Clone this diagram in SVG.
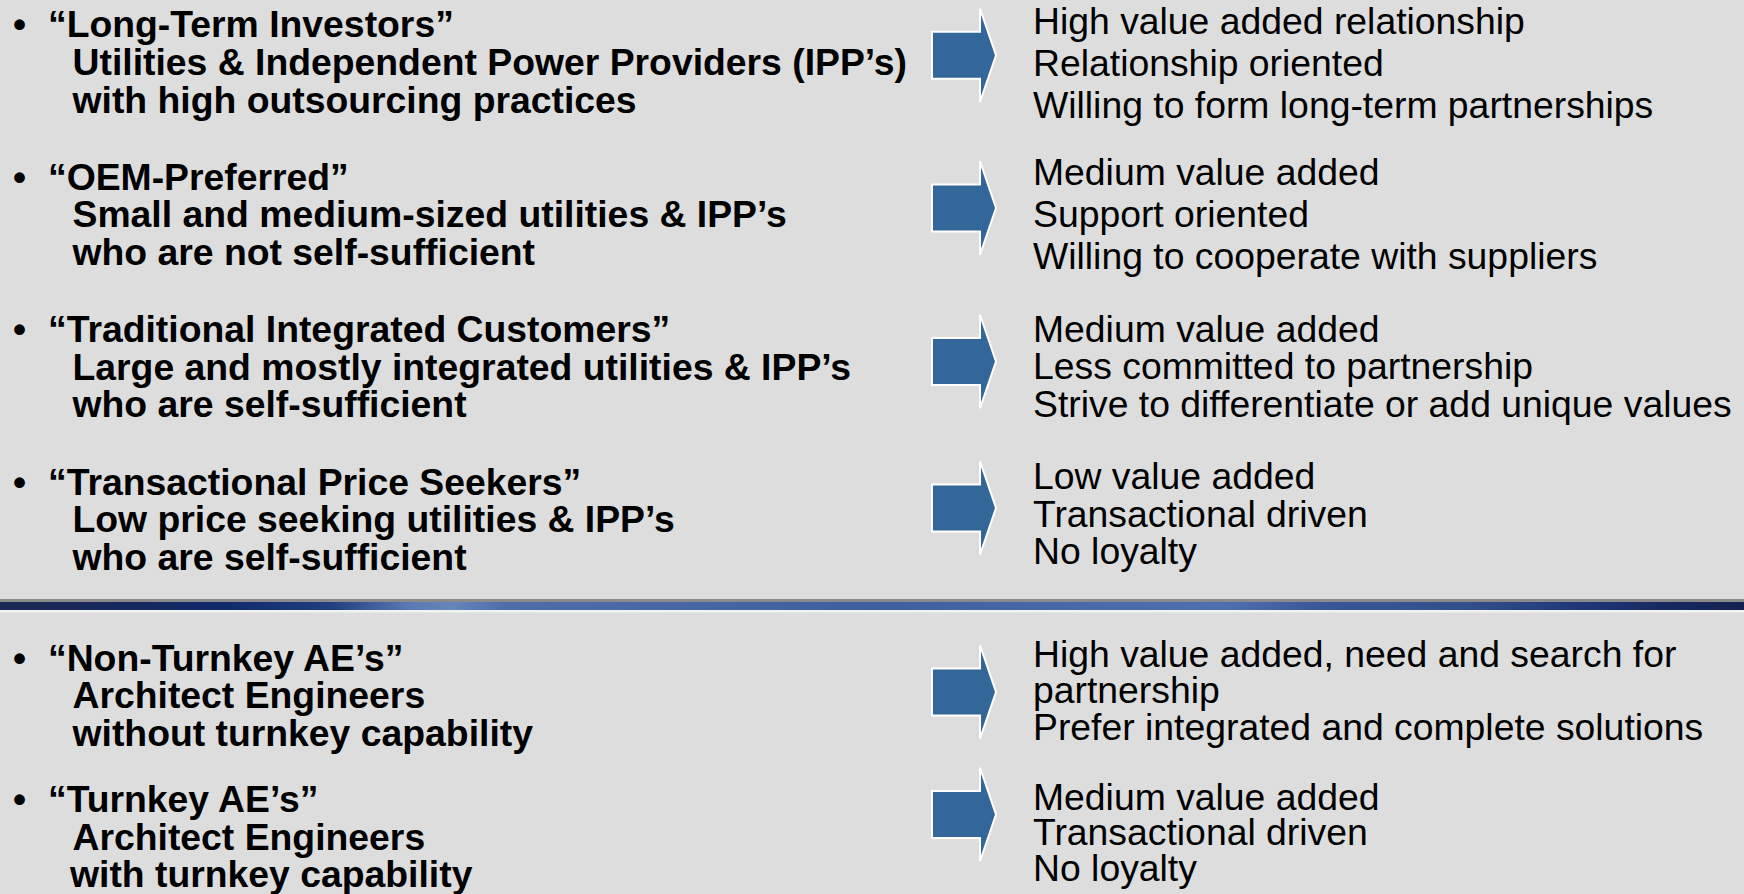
<svg xmlns="http://www.w3.org/2000/svg" xmlns:xlink="http://www.w3.org/1999/xlink" width="1744" height="894" viewBox="0 0 1744 894">
  <style>
    .seg { font-family: "Liberation Sans", Arial, sans-serif; font-size: 37.35px; font-weight: bold; fill: #000; }
    .trait { font-family: "Liberation Sans", Arial, sans-serif; font-size: 37.35px; fill: #000; }
    .blk { fill: #336699; stroke: #ffffff; stroke-width: 2; stroke-linejoin: miter; }
  </style>
  <defs>
    <!-- block arrow centred vertically on y=0 -->
    <path id="blockArrow" d="M932,-23.5 H980 V-46.7 L996,0 L980,46.7 V23.5 H932 Z"/>
    <linearGradient id="bandGrad" x1="0" y1="0" x2="1" y2="0">
      <stop offset="0" stop-color="#1b2a52"/>
      <stop offset="0.08" stop-color="#15295f"/>
      <stop offset="0.13" stop-color="#112a6c"/>
      <stop offset="0.19" stop-color="#203f80"/>
      <stop offset="0.235" stop-color="#5a7ab2"/>
      <stop offset="0.26" stop-color="#6586bb"/>
      <stop offset="0.29" stop-color="#4d6ea8"/>
      <stop offset="0.5" stop-color="#3f60a0"/>
      <stop offset="0.7" stop-color="#4f70b0"/>
      <stop offset="0.76" stop-color="#3a5598"/>
      <stop offset="0.84" stop-color="#33508a"/>
      <stop offset="0.9" stop-color="#22397a"/>
      <stop offset="0.95" stop-color="#172a62"/>
      <stop offset="1" stop-color="#132350"/>
    </linearGradient>
  </defs>

  <!-- background -->
  <rect x="0" y="0" width="1744" height="894" fill="#dddddd"/>

  <!-- horizontal divider band -->
  <g id="divider">
    <rect x="0" y="599" width="1744" height="3" fill="#8a8a8a"/>
    <rect x="0" y="602" width="1744" height="8" fill="url(#bandGrad)"/>
    <rect x="0" y="610" width="1744" height="2.5" fill="#f2f2f2"/>
  </g>

  <!-- customer segments (left column) -->
  <g id="seg-long-term">
    <text class="seg" x="13" y="37">•</text>
    <text class="seg" x="48" y="37">“Long-Term Investors”</text>
    <text class="seg" x="72.5" y="74.5">Utilities &amp; Independent Power Providers (IPP’s)</text>
    <text class="seg" x="72.5" y="112.5">with high outsourcing practices</text>
  </g>
  <g id="seg-oem">
    <text class="seg" x="13" y="189.5">•</text>
    <text class="seg" x="48" y="189.5">“OEM-Preferred”</text>
    <text class="seg" x="72.5" y="227">Small and medium-sized utilities &amp; IPP’s</text>
    <text class="seg" x="72.5" y="265">who are not self-sufficient</text>
  </g>
  <g id="seg-traditional">
    <text class="seg" x="13" y="342">•</text>
    <text class="seg" x="48" y="342">“Traditional Integrated Customers”</text>
    <text class="seg" x="72.5" y="379.5">Large and mostly integrated utilities &amp; IPP’s</text>
    <text class="seg" x="72.5" y="417">who are self-sufficient</text>
  </g>
  <g id="seg-price">
    <text class="seg" x="13" y="494.5">•</text>
    <text class="seg" x="48" y="494.5">“Transactional Price Seekers”</text>
    <text class="seg" x="72.5" y="532">Low price seeking utilities &amp; IPP’s</text>
    <text class="seg" x="72.5" y="569.5">who are self-sufficient</text>
  </g>
  <g id="seg-non-turnkey">
    <text class="seg" x="13" y="670.5">•</text>
    <text class="seg" x="48" y="670.5">“Non-Turnkey AE’s”</text>
    <text class="seg" x="72.5" y="708">Architect Engineers</text>
    <text class="seg" x="72.5" y="745.5">without turnkey capability</text>
  </g>
  <g id="seg-turnkey">
    <text class="seg" x="13" y="812">•</text>
    <text class="seg" x="48" y="812">“Turnkey AE’s”</text>
    <text class="seg" x="72.5" y="849.5">Architect Engineers</text>
    <text class="seg" x="70" y="887">with turnkey capability</text>
  </g>

  <!-- block arrows linking each segment to its profile -->
  <g id="connectors">
    <use xlink:href="#blockArrow" href="#blockArrow" class="blk" transform="translate(0,55.3)"/>
    <use xlink:href="#blockArrow" href="#blockArrow" class="blk" transform="translate(0,208)"/>
    <use xlink:href="#blockArrow" href="#blockArrow" class="blk" transform="translate(0,361.5)"/>
    <use xlink:href="#blockArrow" href="#blockArrow" class="blk" transform="translate(0,508)"/>
    <use xlink:href="#blockArrow" href="#blockArrow" class="blk" transform="translate(0,692)"/>
    <use xlink:href="#blockArrow" href="#blockArrow" class="blk" transform="translate(0,814.5)"/>
  </g>

  <!-- segment profiles (right column) -->
  <g id="profile-long-term">
    <text class="trait" x="1033" y="34">High value added relationship</text>
    <text class="trait" x="1033" y="76">Relationship oriented</text>
    <text class="trait" x="1033" y="118">Willing to form long-term partnerships</text>
  </g>
  <g id="profile-oem">
    <text class="trait" x="1033" y="185">Medium value added</text>
    <text class="trait" x="1033" y="227">Support oriented</text>
    <text class="trait" x="1033" y="269">Willing to cooperate with suppliers</text>
  </g>
  <g id="profile-traditional">
    <text class="trait" x="1033" y="341.7">Medium value added</text>
    <text class="trait" x="1033" y="379">Less committed to partnership</text>
    <text class="trait" x="1033" y="416.7">Strive to differentiate or add unique values</text>
  </g>
  <g id="profile-price">
    <text class="trait" x="1033" y="489">Low value added</text>
    <text class="trait" x="1033" y="526.7">Transactional driven</text>
    <text class="trait" x="1033" y="563.5">No loyalty</text>
  </g>
  <g id="profile-non-turnkey">
    <text class="trait" x="1033" y="666.7">High value added, need and search for</text>
    <text class="trait" x="1033" y="703">partnership</text>
    <text class="trait" x="1033" y="740">Prefer integrated and complete solutions</text>
  </g>
  <g id="profile-turnkey">
    <text class="trait" x="1033" y="810">Medium value added</text>
    <text class="trait" x="1033" y="845">Transactional driven</text>
    <text class="trait" x="1033" y="880.5">No loyalty</text>
  </g>
</svg>
